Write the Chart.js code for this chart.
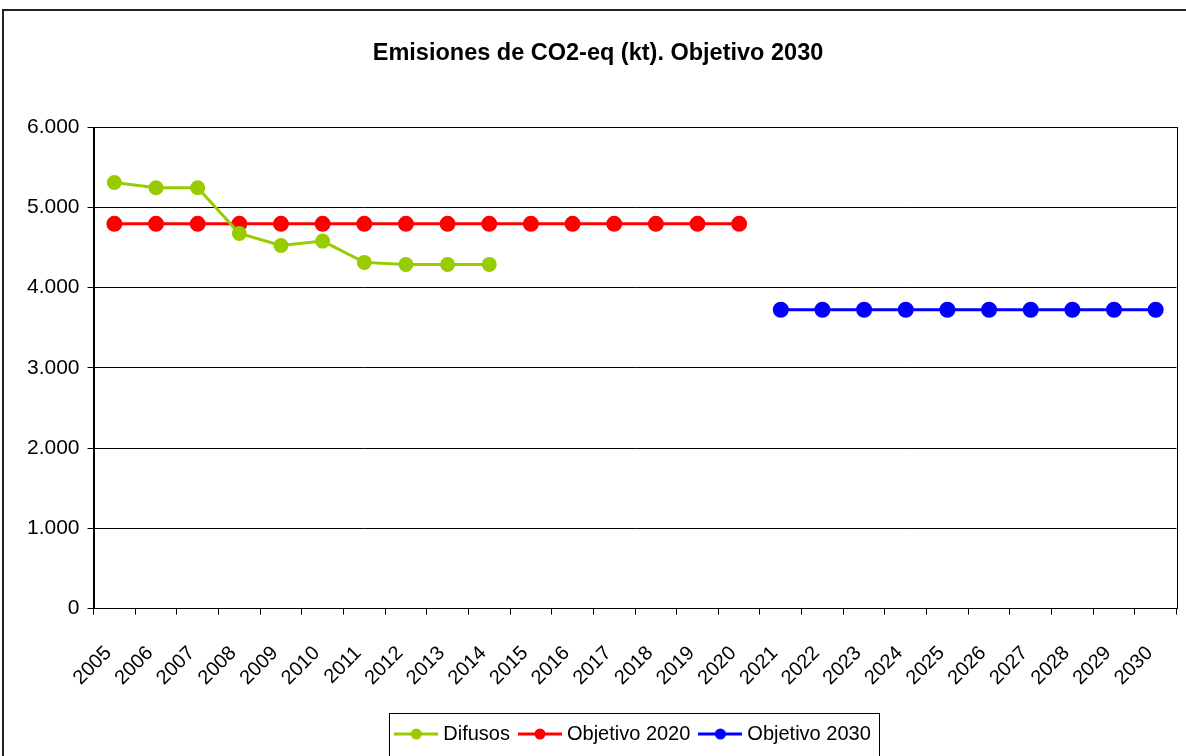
<!DOCTYPE html>
<html>
<head>
<meta charset="utf-8">
<script src="https://cdn.jsdelivr.net/npm/chart.js@4/dist/chart.umd.min.js"></script>
<style>
  html, body { margin: 0; padding: 0; background: #fff; }
  #wrap { width: 1186px; height: 756px; }
</style>
</head>
<body>
<div id="wrap"><canvas id="grafico"></canvas></div>
<script>
// datos
const years = ['2005','2006','2007','2008','2009','2010','2011','2012','2013','2014','2015','2016','2017',
  '2018','2019','2020','2021','2022','2023','2024','2025','2026','2027','2028','2029','2030'];
const difusos = [5310, 5245, 5245, 4675, 4525, 4580, 4315, 4290, 4290, 4290];
const objetivo2020 = [4795, 4795, 4795, 4795, 4795, 4795, 4795, 4795, 4795, 4795, 4795, 4795, 4795, 4795, 4795, 4795];
const objetivo2030 = [null, null, null, null, null, null, null, null, null, null, null, null, null, null, null, null,
  3725, 3725, 3725, 3725, 3725, 3725, 3725, 3725, 3725, 3725];
const yTicks = [0, 1000, 2000, 3000, 4000, 5000, 6000];

const FONT = '"Liberation Sans", Arial, sans-serif';

// icono de leyenda: linea con punto
function legendIcon(color) {
  const c = document.createElement('canvas');
  c.width = 44; c.height = 14;
  const g = c.getContext('2d');
  g.strokeStyle = color; g.lineWidth = 3;
  g.beginPath(); g.moveTo(0, 7); g.lineTo(44, 7); g.stroke();
  g.fillStyle = color;
  g.beginPath(); g.arc(22, 7, 5.5, 0, Math.PI * 2); g.fill();
  return c;
}

// fondo, marco exterior, borde del area y caja de la leyenda
const marcos = {
  id: 'marcos',
  beforeDraw(chart) {
    const ctx = chart.ctx;
    ctx.save();
    ctx.fillStyle = '#fff';
    ctx.fillRect(0, 0, chart.width, chart.height);
    ctx.strokeStyle = '#222';
    ctx.lineWidth = 2;
    ctx.strokeRect(3, 10, chart.width + 10, chart.height + 10);
    ctx.restore();
  },
  afterDraw(chart) {
    const ctx = chart.ctx;
    const a = chart.chartArea;
    ctx.save();
    ctx.strokeStyle = '#000';
    ctx.lineWidth = 1;
    ctx.strokeRect(Math.round(a.left) + 0.5, Math.round(a.top) + 0.5, Math.round(a.right - a.left), Math.round(a.bottom - a.top));
    const hb = chart.legend.legendHitBoxes;
    if (hb && hb.length) {
      const l = hb[0].left - 10;
      const r = hb[hb.length - 1].left + hb[hb.length - 1].width + 8;
      const t = hb[0].top - 11;
      ctx.strokeRect(Math.round(l) + 0.5, Math.round(t) + 0.5, Math.round(r - l), 60);
    }
    ctx.restore();
  }
};

const iconos = [legendIcon('#99CC00'), legendIcon('#FF0000'), legendIcon('#0000FF')];

new Chart(document.getElementById('grafico'), {
  type: 'line',
  data: {
    labels: years,
    datasets: [{
      label: 'Difusos',
      data: difusos,
      borderColor: '#99CC00',
      backgroundColor: '#99CC00',
      borderWidth: 3,
      pointRadius: 6,
      pointHoverRadius: 6,
      fill: false
    }, {
      label: 'Objetivo 2020',
      data: objetivo2020,
      borderColor: '#FF0000',
      backgroundColor: '#FF0000',
      borderWidth: 3,
      pointRadius: 6.5,
      pointHoverRadius: 6.5,
      fill: false
    }, {
      label: 'Objetivo 2030',
      data: objetivo2030,
      borderColor: '#0000FF',
      backgroundColor: '#0000FF',
      borderWidth: 3,
      pointRadius: 6.5,
      pointHoverRadius: 6.5,
      fill: false
    }]
  },
  options: {
    responsive: true,
    maintainAspectRatio: false,
    animation: false,
    layout: { padding: { left: 19, right: 9, top: 0, bottom: 2 } },
    plugins: {
      title: {
        display: true,
        text: 'Emisiones de CO2-eq (kt). Objetivo 2030',
        color: '#000',
        font: { family: FONT, size: 23.5, weight: 'bold' },
        padding: { top: 39, bottom: 60 }
      },
      legend: {
        position: 'bottom',
        fullSize: false,
        labels: {
          color: '#000',
          font: { family: FONT, size: 20 },
          usePointStyle: true,
          pointStyleWidth: 34,
          padding: 13,
          generateLabels(chart) {
            const items = Chart.defaults.plugins.legend.labels.generateLabels(chart);
            items.forEach((it, i) => { it.pointStyle = iconos[i]; });
            return items;
          }
        }
      },
      tooltip: { enabled: false }
    },
    scales: {
      x: {
        offset: true,
        afterFit(scale) { scale.height -= 6; scale.paddingRight = 0; },
        grid: { offset: true, drawOnChartArea: false, drawTicks: true, tickLength: 6, color: '#000' },
        border: { color: '#000', width: 1 },
        ticks: {
          color: '#000',
          font: { family: FONT, size: 20 },
          maxRotation: 45,
          minRotation: 45,
          autoSkip: false,
          padding: 27,
          labelOffset: -6
        }
      },
      y: {
        min: 0,
        max: 6000,
        afterBuildTicks(scale) { scale.ticks = yTicks.map(v => ({ value: v })); },
        grid: { color: '#000', lineWidth: 1, drawTicks: true, tickLength: 6 },
        border: { color: '#000', width: 1 },
        ticks: {
          color: '#000',
          font: { family: FONT, size: 21 },
          padding: 8,
          callback: v => v.toLocaleString('es-ES', { useGrouping: 'always' }).replace(/\s/g, '.')
        }
      }
    }
  },
  plugins: [marcos]
});
</script>
</body>
</html>
